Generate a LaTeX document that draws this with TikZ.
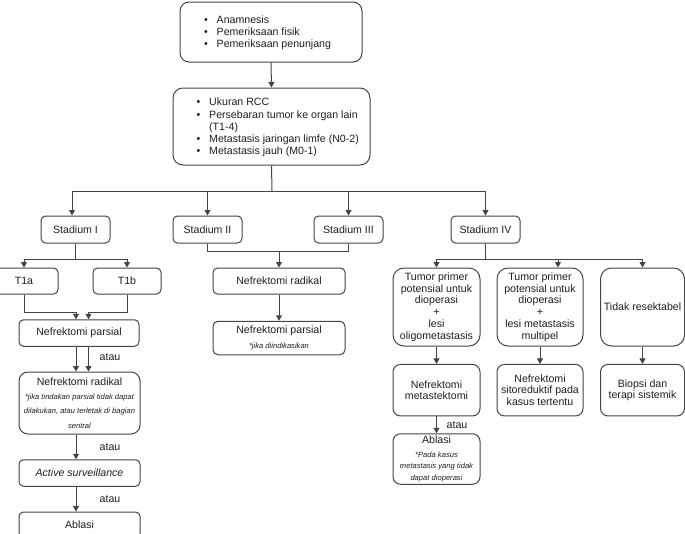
\documentclass[tikz,border=0pt]{standalone}
\usepackage{fontspec}
\setmainfont{Liberation Sans}
\usetikzlibrary{arrows.meta}
\definecolor{edge}{HTML}{444444}
\definecolor{ink}{HTML}{1E1E1E}
\newcommand\mainfont{\fontsize{10.6}{11.8}\selectfont}
\newcommand\notefont{\fontsize{7.6}{10}\selectfont\itshape}
\newcommand\itm{\makebox[12.5pt][l]{\textbullet}}
\begin{document}
\begin{tikzpicture}[x=1pt,y=-1pt,
  box/.style={draw=edge, line width=1pt, rounded corners=#1, inner sep=0pt,
    text=ink, font=\mainfont, align=center},
  box/.default=5pt,
  link/.style={draw=edge, line width=1pt, -{Triangle[length=5.5pt,width=6pt]}},
  plain/.style={draw=edge, line width=1pt},
  lbl/.style={text=ink, font=\mainfont, inner sep=0pt},
  list/.style={text=ink, font=\fontsize{10.6}{12.2}\selectfont, align=left, inner sep=0pt, anchor=west}
]
\useasboundingbox (0,0) rectangle (685,533);

% --- diagnosis and staging criteria
\node[box=9pt, minimum width=182, minimum height=60] (diag) at (271,32) {};
\node[list] (diaglist) at (204,32.5) {\itm Anamnesis\\ \itm Pemeriksaan fisik\\ \itm Pemeriksaan penunjang};
\node[box=10pt, minimum width=197, minimum height=77] (crit) at (271.5,126.5) {};
\node[list] (critlist) at (196.5,127.5) {\itm Ukuran RCC\\ \itm Persebaran tumor ke organ lain\\ \hspace*{12.5pt}(T1-4)\\ \itm Metastasis jaringan limfe (N0-2)\\ \itm Metastasis jauh (M0-1)};

% --- stages
\node[box=4.5pt, minimum width=69, minimum height=27] (s1) at (75.5,229.5) {Stadium I};
\node[box=4.5pt, minimum width=69, minimum height=27] (s2) at (207.5,229.5) {Stadium II};
\node[box=4.5pt, minimum width=69, minimum height=27] (s3) at (348.5,229.5) {Stadium III};
\node[box=4.5pt, minimum width=69, minimum height=27] (s4) at (485.5,229.5) {Stadium IV};

\draw[link] (diag.south) -- (crit.north);
\coordinate (split) at (272,191);
\draw[plain] (crit.south) -- (split);
\draw[link] (split) -| ([xshift=-3.5pt]s1.north);
\draw[link] (split) -| (s2.north);
\draw[link] (split) -| (s3.north);
\draw[link] (split) -| (s4.north);

% --- stage I
\node[box=4.5pt, minimum width=68, minimum height=26] (t1a) at (24,281) {T1a};
\node[box=4.5pt, minimum width=68, minimum height=26] (t1b) at (127,281) {T1b};
\coordinate (split1) at (75.5,259);
\draw[plain] (s1.south) -- (split1);
\draw[link] (split1) -| (t1a.north);
\draw[link] (split1) -| (t1b.north);

\node[box=4.5pt, minimum width=120, minimum height=26.5] (np) at (79,333) {Nefrektomi parsial};
\draw[link] (t1a.south) -- ++(0,18) -| ([xshift=-3pt]np.north);
\draw[link] (t1b.south) -- ++(0,18) -| ([xshift=9.5pt]np.north);

\node[box=9pt, minimum width=121, minimum height=62] (nr) at (79.5,403) {Nefrektomi radikal\\[2.4pt]
  \notefont *jika tindakan parsial tidak dapat\\[2.4pt]
  \notefont dilakukan, atau terletak di bagian\\[2.4pt]
  \notefont sentral};
\draw[link] ([xshift=-3pt]np.south) -- ([xshift=-3.5pt]nr.north);
\draw[link] ([xshift=9.5pt]np.south) -- ([xshift=9pt]nr.north);
\node[lbl] (or1) at (110,357) {atau};

\node[box=4.5pt, minimum width=121, minimum height=26.5] (as) at (79.5,473) {\itshape Active surveillance};
\draw[link] ([xshift=-3.5pt]nr.south) -- ([xshift=-3.5pt]as.north);
\node[lbl] (or2) at (110,447) {atau};

\node[box=4.5pt, minimum width=121, minimum height=26] (abl) at (79.5,525) {Ablasi};
\draw[link] ([xshift=-3.5pt]as.south) -- ([xshift=-3.5pt]abl.north);
\node[lbl] (or3) at (110,499) {atau};

% --- stages II and III
\node[box=4.5pt, minimum width=132, minimum height=26] (nr2) at (279,281) {Nefrektomi radikal};
\coordinate (join23) at (279,251);
\draw[plain] (s2.south) -- ++(0,8) -| (s3.south);
\draw[link] (join23) -- (nr2.north);
\node[box=5pt, minimum width=132, minimum height=33.5] (np2) at (279,338) {Nefrektomi parsial\\[3pt] \notefont *jika diindikasikan};
\draw[link] (nr2.south) -- (np2.north);

% --- stage IV
\node[box=11pt, minimum width=87, minimum height=78] (iva) at (436.5,307) {Tumor primer\\ potensial untuk\\ dioperasi\\ +\\ lesi\\ oligometastasis};
\node[box=11pt, minimum width=86, minimum height=78] (ivb) at (540,307) {Tumor primer\\ potensial untuk\\ dioperasi\\ +\\ lesi metastasis\\ multipel};
\node[box=11pt, minimum width=84, minimum height=78] (ivc) at (642.5,307) {Tidak resektabel};
\coordinate (split4) at (485.5,259);
\draw[plain] (s4.south) -- (split4);
\draw[link] (split4) -| (iva.north);
\draw[link] (split4) -| ([xshift=18pt]ivb.north);
\draw[link] (split4) -| (ivc.north);

\node[box=7.5pt, minimum width=87, minimum height=51.5] (iva2) at (436.5,390.2) {Nefrektomi\\ metastektomi};
\node[box=7.5pt, minimum width=86, minimum height=51.5] (ivb2) at (540,390.2) {Nefrektomi\\ sitoreduktif pada\\ kasus tertentu};
\node[box=7.5pt, minimum width=84, minimum height=51.5] (ivc2) at (642.5,390.2) {Biopsi dan\\ terapi sistemik};
\draw[link] (iva.south) -- (iva2.north);
\draw[link] (ivb.south) -- (ivb2.north);
\draw[link] (ivc.south) -- (ivc2.north);

\node[box=7.5pt, minimum width=87, minimum height=50.5] (iva3) at (436.5,459) {Ablasi\\[2pt]
  \notefont *Pada kasus\\ \notefont metastasis yang tidak\\ \notefont dapat dioperasi};
\draw[link] (iva2.south) -- (iva3.north);
\node[lbl] (or4) at (457,425) {atau};
\end{tikzpicture}
\end{document}
